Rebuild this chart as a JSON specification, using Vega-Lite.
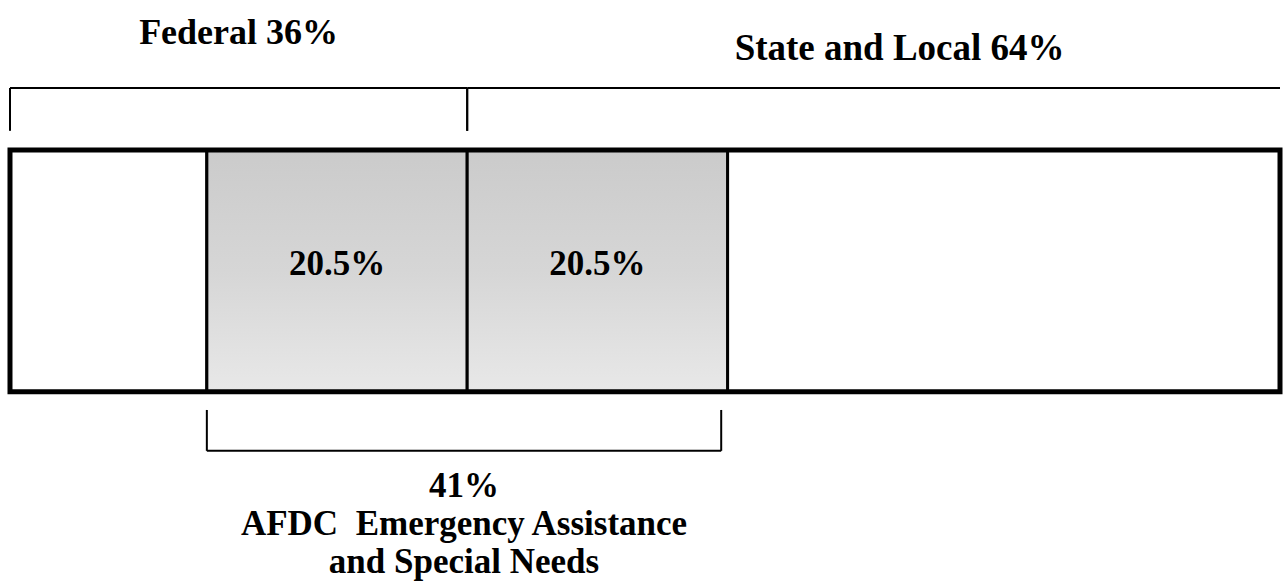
{
  "$schema": "https://vega.github.io/schema/vega-lite/v6.json",
  "width": 1283,
  "height": 584,
  "autosize": {"type": "fit", "contains": "padding"},
  "padding": 0,
  "background": "white",
  "config": {"view": {"stroke": null}, "font": "Liberation Serif"},
  "datasets": {
    "segments": [
      {"part": "Other federal funds", "payer": "Federal", "share": 15.5, "order": 1, "afdc": false, "label": ""},
      {"part": "AFDC EA and special needs, federal", "payer": "Federal", "share": 20.5, "order": 2, "afdc": true, "label": "20.5%"},
      {"part": "AFDC EA and special needs, state and local", "payer": "State and Local", "share": 20.5, "order": 3, "afdc": true, "label": "20.5%"},
      {"part": "Other state and local funds", "payer": "State and Local", "share": 43.5, "order": 4, "afdc": false, "label": ""}
    ],
    "groups": [
      {"group": "Federal", "from": 0, "to": 36, "label": "Federal 36%"},
      {"group": "State and Local", "from": 36, "to": 100, "label": "State and Local 64%"},
      {"group": "AFDC", "from": 15.5, "to": 56, "label": ["41%", "AFDC\u00a0\u00a0Emergency Assistance", "and Special Needs"]}
    ]
  },
  "layer": [
    {
      "data": {"name": "segments"},
      "transform": [
        {"stack": "share", "groupby": [], "sort": [{"field": "order", "order": "ascending"}], "as": ["x0", "x1"]},
        {"filter": "!datum.afdc"}
      ],
      "mark": {"type": "rect", "fill": "white", "stroke": "black", "strokeWidth": 3},
      "encoding": {
        "x": {"field": "x0", "type": "quantitative", "scale": {"domain": [-0.787, 100.157], "nice": false, "zero": false}, "axis": null},
        "x2": {"field": "x1"},
        "y": {"datum": 25.7, "type": "quantitative", "scale": {"domain": [0, 100], "reverse": true, "nice": false, "zero": false}, "axis": null},
        "y2": {"datum": 67.1}
      }
    },
    {
      "data": {"name": "segments"},
      "transform": [
        {"stack": "share", "groupby": [], "sort": [{"field": "order", "order": "ascending"}], "as": ["x0", "x1"]},
        {"filter": "datum.afdc"}
      ],
      "mark": {
        "type": "rect",
        "fill": {"gradient": "linear", "x1": 0, "y1": 0, "x2": 0, "y2": 1, "stops": [{"offset": 0, "color": "#cbcbcb"}, {"offset": 0.5, "color": "#d6d6d6"}, {"offset": 1, "color": "#e8e8e8"}]},
        "stroke": "black",
        "strokeWidth": 3
      },
      "encoding": {
        "x": {"field": "x0", "type": "quantitative", "axis": null},
        "x2": {"field": "x1"},
        "y": {"datum": 25.7, "type": "quantitative", "axis": null},
        "y2": {"datum": 67.1}
      }
    },
    {
      "data": {"name": "segments"},
      "transform": [
        {"stack": "share", "groupby": [], "sort": [{"field": "order", "order": "ascending"}], "as": ["x0", "x1"]},
        {"aggregate": [{"op": "min", "field": "x0", "as": "start"}, {"op": "max", "field": "x1", "as": "end"}]}
      ],
      "mark": {"type": "rect", "filled": false, "stroke": "black", "strokeWidth": 5},
      "encoding": {
        "x": {"field": "start", "type": "quantitative", "axis": null},
        "x2": {"field": "end"},
        "y": {"datum": 25.7, "type": "quantitative", "axis": null},
        "y2": {"datum": 67.1}
      }
    },
    {
      "data": {"name": "segments"},
      "transform": [
        {"stack": "share", "groupby": [], "sort": [{"field": "order", "order": "ascending"}], "as": ["x0", "x1"]},
        {"filter": "datum.afdc"},
        {"calculate": "(datum.x0 + datum.x1) / 2", "as": "mid"}
      ],
      "mark": {"type": "text", "font": "Liberation Serif", "fontWeight": "bold", "fontSize": 35, "align": "center", "baseline": "alphabetic", "color": "black"},
      "encoding": {
        "x": {"field": "mid", "type": "quantitative", "axis": null},
        "y": {"datum": 47.1, "type": "quantitative", "axis": null},
        "text": {"field": "label"}
      }
    },
    {
      "data": {"name": "groups"},
      "transform": [{"filter": "datum.group !== 'AFDC'"}],
      "mark": {"type": "rule", "stroke": "black", "strokeWidth": 2},
      "encoding": {
        "x": {"field": "from", "type": "quantitative", "axis": null},
        "x2": {"field": "to"},
        "y": {"datum": 15.07, "type": "quantitative", "axis": null}
      }
    },
    {
      "data": {"name": "groups"},
      "transform": [
        {"filter": "datum.group !== 'AFDC'"},
        {"fold": ["from", "to"], "as": ["end", "pos"]},
        {"filter": "datum.pos < 100"}
      ],
      "mark": {"type": "rule", "stroke": "black", "strokeWidth": 2},
      "encoding": {
        "x": {"field": "pos", "type": "quantitative", "axis": null},
        "y": {"datum": 15.07, "type": "quantitative", "axis": null},
        "y2": {"datum": 22.4}
      }
    },
    {
      "data": {"name": "groups"},
      "transform": [{"filter": "datum.group === 'AFDC'"}],
      "mark": {"type": "rule", "stroke": "black", "strokeWidth": 2},
      "encoding": {
        "x": {"field": "from", "type": "quantitative", "axis": null},
        "x2": {"field": "to"},
        "y": {"datum": 77.2, "type": "quantitative", "axis": null}
      }
    },
    {
      "data": {"name": "groups"},
      "transform": [
        {"filter": "datum.group === 'AFDC'"},
        {"fold": ["from", "to"], "as": ["end", "pos"]}
      ],
      "mark": {"type": "rule", "stroke": "black", "strokeWidth": 2},
      "encoding": {
        "x": {"field": "pos", "type": "quantitative", "axis": null},
        "y": {"datum": 70.2, "type": "quantitative", "axis": null},
        "y2": {"datum": 77.2}
      }
    },
    {
      "data": {"name": "groups"},
      "transform": [
        {"filter": "datum.group === 'Federal'"},
        {"calculate": "(datum.from + datum.to) / 2", "as": "mid"}
      ],
      "mark": {"type": "text", "font": "Liberation Serif", "fontWeight": "bold", "fontSize": 36, "align": "center", "baseline": "alphabetic", "color": "black"},
      "encoding": {
        "x": {"field": "mid", "type": "quantitative", "axis": null},
        "y": {"datum": 7.5, "type": "quantitative", "axis": null},
        "text": {"field": "label"}
      }
    },
    {
      "data": {"name": "groups"},
      "transform": [
        {"filter": "datum.group === 'State and Local'"},
        {"calculate": "(datum.from + datum.to) / 2", "as": "mid"}
      ],
      "mark": {"type": "text", "font": "Liberation Serif", "fontWeight": "bold", "fontSize": 37, "align": "center", "baseline": "alphabetic", "color": "black", "dx": 26},
      "encoding": {
        "x": {"field": "mid", "type": "quantitative", "axis": null},
        "y": {"datum": 10.2, "type": "quantitative", "axis": null},
        "text": {"field": "label"}
      }
    },
    {
      "data": {"name": "groups"},
      "transform": [
        {"filter": "datum.group === 'AFDC'"},
        {"calculate": "(datum.from + datum.to) / 2", "as": "mid"}
      ],
      "mark": {"type": "text", "font": "Liberation Serif", "fontWeight": "bold", "fontSize": 35, "lineHeight": 38, "align": "center", "baseline": "alphabetic", "color": "black"},
      "encoding": {
        "x": {"field": "mid", "type": "quantitative", "axis": null},
        "y": {"datum": 85.1, "type": "quantitative", "axis": null},
        "text": {"field": "label"}
      }
    }
  ]
}
